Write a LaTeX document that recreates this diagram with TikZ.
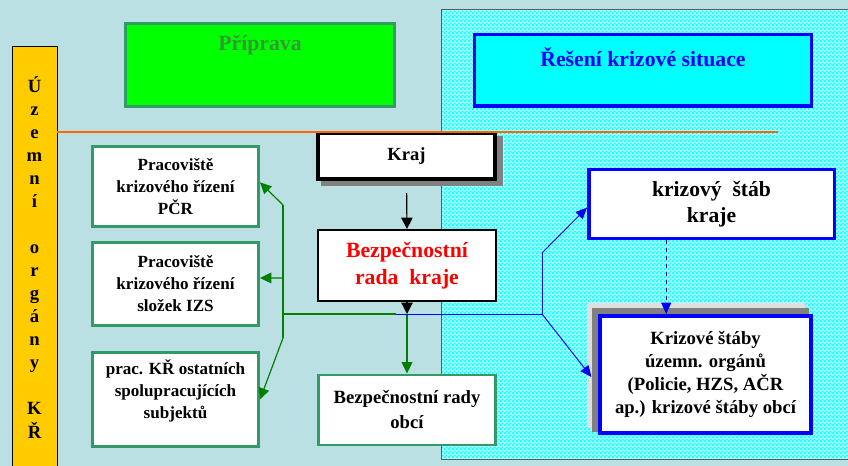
\documentclass[tikz,border=0pt]{standalone}
\usepackage{fontspec}
\setmainfont{Liberation Serif}
\usetikzlibrary{arrows.meta,calc,patterns}

\definecolor{bgteal}{RGB}{187,224,227}
\definecolor{boxgreen}{RGB}{51,153,102}
\definecolor{arrgreen}{RGB}{0,128,0}
\definecolor{txtgreen}{RGB}{51,153,51}
\definecolor{lineorange}{RGB}{255,102,0}
\definecolor{barorange}{RGB}{255,204,0}
\definecolor{brightcyan}{RGB}{0,255,255}
\definecolor{brightgreen}{RGB}{0,255,0}
\definecolor{palecyan}{RGB}{170,255,255}
\definecolor{pureblue}{RGB}{0,0,255}

% fine checker for the dotted panel
\pgfdeclarepatternformonly{finecheck}{\pgfpointorigin}{\pgfpoint{3pt}{3pt}}{\pgfpoint{3pt}{3pt}}{%
  \pgfpathrectangle{\pgfpointorigin}{\pgfpoint{1.5pt}{1.5pt}}%
  \pgfpathrectangle{\pgfpoint{1.5pt}{1.5pt}}{\pgfpoint{1.5pt}{1.5pt}}%
  \pgfusepath{fill}}

\begin{document}
\begin{tikzpicture}[x=0.75pt,y=0.75pt,yscale=-1,xscale=1,
  greenbox/.style={draw=boxgreen, line width=2.2pt, fill=white, align=center, inner sep=0pt},
  bluebox/.style={draw=pureblue, line width=2.6pt, fill=white, align=center, inner sep=0pt},
  fsmall/.style={font=\fontsize{12.8}{16.5}\selectfont\bfseries},
  fmid/.style={font=\fontsize{14}{17.3}\selectfont\bfseries},
  fbig/.style={font=\fontsize{16.3}{19.8}\selectfont\bfseries},
  garrow/.style={draw=arrgreen, line width=0.9pt, -{Triangle[length=8.5pt,width=8pt]}},
  barrow/.style={draw=pureblue, line width=0.75pt, -{Triangle[length=8.5pt,width=7.5pt]}},
  karrow/.style={draw=black, line width=0.9pt, -{Triangle[length=8.5pt,width=8.5pt]}},
]
\useasboundingbox (0,0) rectangle (848,466);
\clip (0,0) rectangle (848,466);

%Background
\fill[bgteal] (0,0) rectangle (848,466);

%Shape: Rectangle (dotted panel)
\fill[palecyan] (441,10) rectangle (860,459);
\fill[pattern=finecheck, pattern color=brightcyan] (441,10) rectangle (860,459);
\draw[black!65, line width=0.75pt] (860,459) -- (441,459) -- (441,10) -- (860,10);

%Shape: Rectangle (yellow bar)
\draw[fill=barorange, line width=0.75pt] (12,47) rectangle (57,480);
\node[fmid, align=center, inner sep=0pt] (barlbl) at (34.5,257)
  {Ú\\z\\e\\m\\n\\í\\\mbox{}\\o\\r\\g\\á\\n\\y\\\mbox{}\\K\\Ř};

%Shape: Rectangle (Priprava)
\node[draw=boxgreen, line width=2.2pt, fill=brightgreen, minimum width=201.75pt, minimum height=62.25pt] (prip) at (260,65) {};
\node[fbig, text=txtgreen] (priplbl) at (260,45) {Příprava};

%Shape: Rectangle (Reseni)
\node[draw=pureblue, line width=2.6pt, fill=brightcyan, minimum width=252.4pt, minimum height=53.6pt] (reseni) at (643,70.5) {};
\node[fbig, text=pureblue] (resenilbl) at (643,57) {Řešení krizové situace};

%Shape: Rectangle (Kraj)
\fill[gray] (321,136) rectangle (503,186);
\node[draw=black, line width=3pt, fill=white, inner sep=0pt, minimum width=132.75pt, minimum height=34.5pt, font=\fontsize{13.9}{16}\selectfont\bfseries] (kraj) at (406.5,156) {Kraj};

%Shape: Rectangle (Bezpecnostni rada kraje)
\node[draw=black, line width=1.5pt, fill=white, align=center, inner sep=0pt, minimum width=133.5pt, minimum height=53.25pt, text=red, font=\fontsize{16.3}{20.3}\selectfont\bfseries] (rada) at (407,265.5) {Bezpečnostní\\rada\ \ kraje};

%Shape: Rectangle (Bezpecnostni rady obci)
\node[greenbox, font=\fontsize{14}{18.75}\selectfont\bfseries, minimum width=132.75pt, minimum height=52.5pt] (obci) at (407,410) {Bezpečnostní rady\\obcí};

%Shape: Rectangle (left column)
\node[greenbox, fsmall, minimum width=124.5pt, minimum height=60pt] (pcr) at (175.5,186.5) {Pracoviště\\krizového řízení\\PČR};
\node[greenbox, fsmall, minimum width=124.5pt, minimum height=62.25pt] (izs) at (175.5,284) {Pracoviště\\krizového řízení\\složek IZS};
\node[greenbox, minimum width=124.5pt, minimum height=70.5pt] (ostatni) at (175.5,399.5) {};
\node[fsmall, align=center, inner sep=0pt] (ostatnilbl) at (175.5,391) {prac. KŘ ostatních\\spolupracujících\\subjektů};

%Shape: Rectangle (krizovy stab kraje)
\node[bluebox, font=\fontsize{16.2}{19.5}\selectfont\bfseries, minimum width=184.1pt, minimum height=51.4pt] (stab) at (711.5,204) {krizový\ \ štáb\\kraje};

%Shape: Rectangle (krizove staby)
\fill[gray!25] (588,303) rectangle (805,428);
\fill[gray] (592,308) rectangle (809,432);
\node[bluebox, line width=3pt, fmid, minimum width=158.25pt, minimum height=87.75pt] (staby) at (705.5,374.5) {Krizové štáby\\územn. orgánů\\(Policie, HZS, AČR\\ap.) krizové štáby obcí};

%Straight Lines
\draw[lineorange, line width=0.9pt] (57,132) -- (778,132);

\coordinate (jn) at (407,314);
\coordinate (split) at (396,314);
\coordinate (gbus) at (283,314);
\coordinate (gtop) at (283,205);
\coordinate (gmid) at (283,278);
\coordinate (gbot) at (283,338);
\coordinate (bbus) at (542,314);
\coordinate (btop) at (542,253);

\draw[karrow, shorten <=9pt] (kraj.south) -- (rada.north);
\draw[karrow] (rada.south) -- (jn);
\draw[garrow] (jn) -- (obci.north);

\draw[arrgreen, line width=0.9pt] (split) -- (gbus);
\draw[arrgreen, line width=0.9pt] (gtop) -- (gbot);
\draw[garrow] (gtop) -- ($(pcr.north east)!0.45!(pcr.south east)$);
\draw[garrow] (gmid) -- ($(izs.north east)!0.43!(izs.south east)$);
\draw[garrow] (gbot) -- (ostatni.east);

\draw[pureblue, line width=0.75pt] (split) -- (bbus) -- (btop);
\draw[barrow] (btop) -- ($(stab.north west)!0.55!(stab.south west)$);
\draw[barrow, shorten >=8pt] (bbus) -- ($(staby.north west)!0.59!(staby.south west)$);

\coordinate (dtop) at ($(stab.south west)!0.318!(stab.south east)$);
\draw[barrow, dashed] (dtop) -- (dtop |- staby.north);

\end{tikzpicture}
\end{document}
